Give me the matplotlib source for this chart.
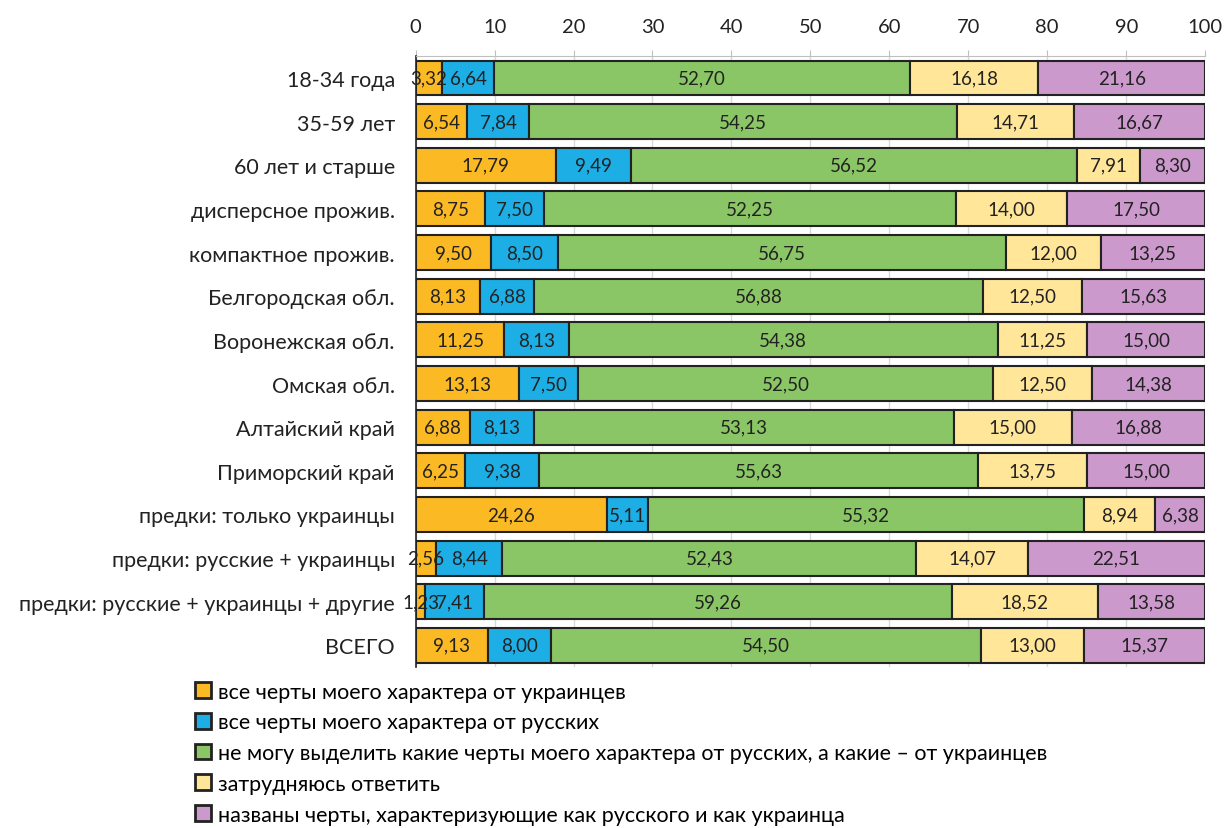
import numpy as np
import matplotlib.pyplot as plt

plt.rcParams['font.family'] = ['Lato', 'DejaVu Sans']

categories = ['18-34 года', '35-59 лет', '60 лет и старше', 'дисперсное прожив.',
              'компактное прожив.', 'Белгородская обл.', 'Воронежская обл.',
              'Омская обл.', 'Алтайский край', 'Приморский край',
              'предки: только украинцы', 'предки: русские + украинцы',
              'предки: русские + украинцы + другие', 'ВСЕГО']

ot_ukr = [3.32, 6.54, 17.79, 8.75, 9.50, 8.13, 11.25, 13.13, 6.88, 6.25, 24.26, 2.56, 1.23, 9.13]
ot_rus = [6.64, 7.84, 9.49, 7.50, 8.50, 6.88, 8.13, 7.50, 8.13, 9.38, 5.11, 8.44, 7.41, 8.00]
ne_mogu = [52.70, 54.25, 56.52, 52.25, 56.75, 56.88, 54.38, 52.50, 53.13, 55.63, 55.32, 52.43, 59.26, 54.50]
zatrud = [16.18, 14.71, 7.91, 14.00, 12.00, 12.50, 11.25, 12.50, 15.00, 13.75, 8.94, 14.07, 18.52, 13.00]
oba = [21.16, 16.67, 8.30, 17.50, 13.25, 15.63, 15.00, 14.38, 16.88, 15.00, 6.38, 22.51, 13.58, 15.37]

series = [ot_ukr, ot_rus, ne_mogu, zatrud, oba]
names = ['все черты моего характера от украинцев',
         'все черты моего характера от русских',
         'не могу выделить какие черты моего характера от русских, а какие – от украинцев',
         'затрудняюсь ответить',
         'названы черты, характеризующие как русского и как украинца']
colors = ['#FBBA24', '#1CAEE4', '#8AC665', '#FFE699', '#CC99CC']

fig = plt.figure(figsize=(12.26, 8.29), dpi=100)
ax = fig.add_axes([0.339, 0.194, 0.644, 0.737])

y = np.arange(len(categories))
left = np.zeros(len(categories))
for vals, name, col in zip(series, names, colors):
    vals = np.array(vals)
    ax.barh(y, vals, left=left, height=0.8, color=col, edgecolor='#222222',
            linewidth=1.5, label=name, zorder=3)
    for yi, l, v in zip(y, left, vals):
        ax.text(l + v / 2, yi, f'{v:.2f}'.replace('.', ','), ha='center', va='center',
                fontsize=13.5, color='#222222', zorder=4)
    left += vals

ax.set_xlim(0, 100)
ax.set_ylim(len(categories) - 0.5, -0.5)
ax.set_yticks(y)
ax.set_yticklabels(categories, fontsize=15.5, color='#222222')
ax.set_xticks(range(0, 101, 10))
ax.xaxis.tick_top()
ax.tick_params(axis='x', labelsize=14.5, colors='#222222', length=4, color='#bfbfbf', pad=11)
ax.tick_params(axis='y', length=0, pad=15)
ax.grid(axis='x', color='#d9d9d9', linewidth=1, zorder=0)
for s in ['right', 'bottom']:
    ax.spines[s].set_visible(False)
ax.spines['top'].set_color('#bfbfbf')
ax.spines['left'].set_color('#222222')
ax.spines['left'].set_linewidth(1.2)

leg = fig.legend(loc='upper left', bbox_to_anchor=(0.152, 0.187), frameon=False,
                 fontsize=15.5, handlelength=0.75, handleheight=0.75, handletextpad=0.3,
                 labelspacing=0.5, borderaxespad=0)
for h in leg.legend_handles:
    h.set_linewidth(2)

fig.savefig('out.png', dpi=100)
